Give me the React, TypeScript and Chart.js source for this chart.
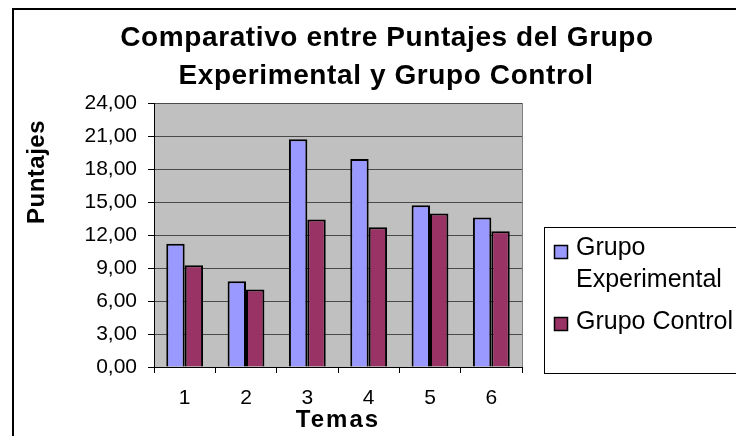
import React, { useEffect, useRef } from "react";
import { Chart, registerables } from "chart.js";

Chart.register(...registerables);

const categories = ["1", "2", "3", "4", "5", "6"];
const experimental = [11.2, 7.8, 20.7, 18.9, 14.7, 13.6];
const control = [9.25, 7.05, 13.4, 12.7, 13.95, 12.35];
const seriesNames = ["Grupo Experimental", "Grupo Control"];
const legendLines = [["Grupo", "Experimental"], ["Grupo Control"]];
const titleLines = ["Comparativo entre Puntajes del Grupo", "Experimental y Grupo Control"];
const xTitle = "Temas";
const yTitle = "Puntajes";
const yMin = 0;
const yMax = 24;
const yStep = 3;

const FONT = "'Liberation Sans', Arial, Helvetica, sans-serif";
const colors = ["#9999FF", "#993366"];

const decorPlugin = {
  id: "decor",
  beforeDraw(chart: any) {
    const ctx = chart.ctx as CanvasRenderingContext2D;
    const a = chart.chartArea;
    ctx.save();
    ctx.fillStyle = "#ffffff";
    ctx.fillRect(0, 0, chart.width, chart.height);
    // outer frame
    ctx.strokeStyle = "#000000";
    ctx.lineWidth = 2;
    ctx.beginPath();
    ctx.moveTo(13, chart.height + 5);
    ctx.lineTo(13, 9);
    ctx.lineTo(chart.width + 5, 9);
    ctx.stroke();
    // plot background
    ctx.fillStyle = "#C0C0C0";
    ctx.fillRect(a.left, a.top, a.right - a.left, a.bottom - a.top);
    ctx.restore();
  },
  afterDraw(chart: any) {
    const ctx = chart.ctx as CanvasRenderingContext2D;
    const a = chart.chartArea;
    ctx.save();
    // plot right border
    ctx.strokeStyle = "#808080";
    ctx.lineWidth = 1;
    ctx.beginPath();
    ctx.moveTo(Math.round(a.right) + 0.5, a.top);
    ctx.lineTo(Math.round(a.right) + 0.5, a.bottom);
    ctx.stroke();

    // title
    ctx.fillStyle = "#000000";
    ctx.textAlign = "center";
    ctx.textBaseline = "alphabetic";
    ctx.font = `bold 28px ${FONT}`;
    (ctx as any).letterSpacing = "0.6px";
    ctx.fillText(titleLines[0], 387, 46);
    ctx.fillText(titleLines[1], 386, 84);

    // x axis title
    ctx.font = `bold 24px ${FONT}`;
    (ctx as any).letterSpacing = "2px";
    ctx.fillText(xTitle, (a.left + a.right) / 2, 427);

    // y axis title
    (ctx as any).letterSpacing = "0.5px";
    ctx.save();
    ctx.translate(44, 172);
    ctx.rotate(-Math.PI / 2);
    ctx.textAlign = "center";
    ctx.fillText(yTitle, 0, 0);
    ctx.restore();
    (ctx as any).letterSpacing = "0px";

    // legend
    ctx.strokeStyle = "#000000";
    ctx.lineWidth = 1;
    ctx.strokeRect(544.5, 227.5, 300, 146);
    const swatchY = [245, 317];
    const baselines = [[255, 287], [329]];
    ctx.font = `25px ${FONT}`;
    ctx.textAlign = "left";
    legendLines.forEach((lines, i) => {
      ctx.fillStyle = colors[i];
      ctx.fillRect(554, swatchY[i], 13, 13);
      ctx.strokeStyle = "#000000";
      ctx.lineWidth = 1.5;
      ctx.strokeRect(554.5, swatchY[i] + 0.5, 13, 13);
      ctx.fillStyle = "#000000";
      lines.forEach((ln, j) => ctx.fillText(ln, 576, baselines[i][j]));
    });
    ctx.restore();
  },
};

export default function App() {
  const ref = useRef<HTMLCanvasElement | null>(null);
  useEffect(() => {
    if (!ref.current) return;
    const chart = new Chart(ref.current, {
      type: "bar",
      data: {
        labels: categories,
        datasets: [
          {
            label: seriesNames[0],
            data: experimental,
            backgroundColor: colors[0],
            borderColor: "#000000",
            borderWidth: 2,
            categoryPercentage: 0.6,
            barPercentage: 1.0,
          },
          {
            label: seriesNames[1],
            data: control,
            backgroundColor: colors[1],
            borderColor: "#000000",
            borderWidth: 2,
            categoryPercentage: 0.6,
            barPercentage: 1.0,
          },
        ],
      },
      options: {
        animation: false,
        responsive: false,
        devicePixelRatio: 1,
        layout: { padding: { left: 0, top: 103, right: 214, bottom: 0 } },
        plugins: {
          legend: { display: false },
          title: { display: false },
          tooltip: { enabled: false },
        },
        scales: {
          x: {
            afterFit: (s: any) => {
              s.height = 69;
            },
            grid: {
              drawOnChartArea: false,
              drawTicks: true,
              tickLength: 6,
              tickColor: "#000000",
              offset: true,
            },
            border: { color: "#000000", width: 1 },
            ticks: {
              color: "#000000",
              padding: 13,
              font: { family: FONT, size: 21 },
            },
          },
          y: {
            min: yMin,
            max: yMax,
            afterFit: (s: any) => {
              s.width = 154;
            },
            grid: {
              color: "#4a4a4a",
              lineWidth: 1,
              tickLength: 6,
              tickColor: "#000000",
            },
            border: { color: "#000000", width: 1 },
            ticks: {
              stepSize: yStep,
              color: "#000000",
              padding: 11,
              font: { family: FONT, size: 21 },
              callback: (v: any) => Number(v).toFixed(2).replace(".", ","),
            },
          },
        },
      },
      plugins: [decorPlugin],
    });
    return () => chart.destroy();
  }, []);
  return (
    <div style={{ position: "absolute", left: 0, top: 0, width: 736, height: 436 }}>
      <canvas ref={ref} width={736} height={436} />
    </div>
  );
}
